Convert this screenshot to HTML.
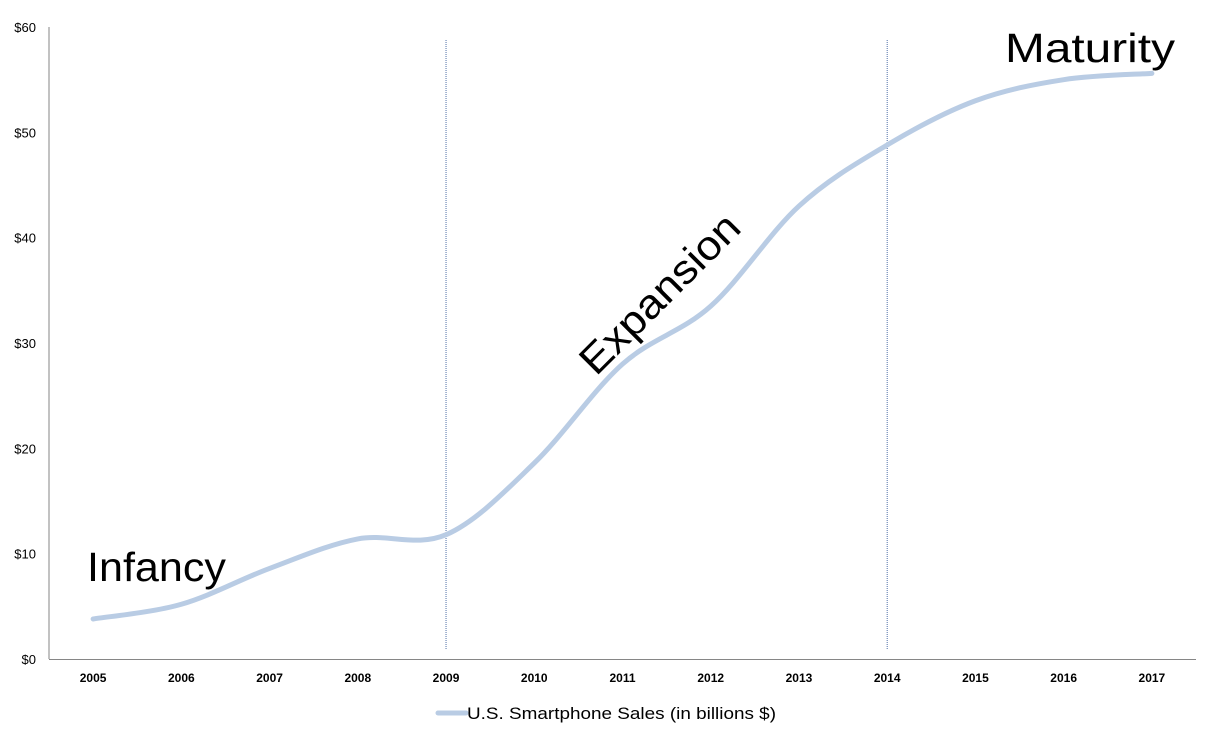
<!DOCTYPE html>
<html><head><meta charset="utf-8"><style>
body{margin:0;background:#fff;}
svg text{font-family:"Liberation Sans",sans-serif;}
</style></head><body>
<svg id="chart" width="1211" height="739"></svg>
<script>
const years=["2005","2006","2007","2008","2009","2010","2011","2012","2013","2014","2015","2016","2017"];
const sales=[3.8,5.2,8.6,11.4,11.8,18.6,28,33.5,43,48.8,53,55,55.6];
const yTicks=[0,10,20,30,40,50,60];
const yTickLabels=["$0","$10","$20","$30","$40","$50","$60"];
const phaseLines=["2009","2014"];
const NS="http://www.w3.org/2000/svg";
const svg=document.getElementById('chart');
const L=49,R=1196,T=27,B=659;
const band=(R-L)/years.length;
const x=i=>L+band*(i+0.5);
const y=v=>B-(v/60)*(B-T);
function mk(t,a,p){const e=document.createElementNS(NS,t);for(const k in a)e.setAttribute(k,a[k]);(p||svg).appendChild(e);return e;}
let e;
e=mk('line',{x1:L,y1:T,x2:L,y2:B,stroke:'#868686','stroke-width':1});


e=mk('line',{x1:L,y1:B+0.5,x2:R,y2:B+0.5,stroke:'#868686','stroke-width':1});


yTicks.forEach((v,i)=>{
  const t=mk('text',{x:36,y:y(v)+5,'text-anchor':'end','font-size':13,fill:'#000'});
  t.textContent=yTickLabels[i];
  
  
});
years.forEach((yr,i)=>{
  const t=mk('text',{x:x(i),y:682,'text-anchor':'middle','font-size':12,'font-weight':'bold',fill:'#000'});
  t.textContent=yr;
  
  
});
phaseLines.forEach(p=>{
  const i=years.indexOf(p);
  const l=mk('line',{x1:x(i),y1:40,x2:x(i),y2:649,stroke:'#4f6fa8','stroke-width':1,'stroke-dasharray':'1,1'});
  
  
});
const pts=sales.map((v,i)=>[x(i),y(v)]);
let d=`M${pts[0][0]},${pts[0][1]}`;
for(let i=0;i<pts.length-1;i++){
  const p0=pts[Math.max(0,i-1)],p1=pts[i],p2=pts[i+1],p3=pts[Math.min(pts.length-1,i+2)];
  const c1=[p1[0]+(p2[0]-p0[0])/6,p1[1]+(p2[1]-p0[1])/6];
  const c2=[p2[0]-(p3[0]-p1[0])/6,p2[1]-(p3[1]-p1[1])/6];
  d+=` C${c1[0]},${c1[1]} ${c2[0]},${c2[1]} ${p2[0]},${p2[1]}`;
}
e=mk('path',{d:d,fill:'none',stroke:'#b9cce4','stroke-width':5,'stroke-linecap':'round'});


e=mk('text',{x:87,y:581,'font-size':41,fill:'#000',textLength:139,lengthAdjust:'spacingAndGlyphs'});e.textContent='Infancy';


e=mk('text',{x:0,y:0,'font-size':41,fill:'#000',textLength:208,lengthAdjust:'spacingAndGlyphs',transform:'translate(596,377) rotate(-45)'});e.textContent='Expansion';


e=mk('text',{x:1005,y:62,'font-size':41,fill:'#000',textLength:170,lengthAdjust:'spacingAndGlyphs'});e.textContent='Maturity';


const g=mk('g',{});


mk('line',{x1:438,y1:713,x2:466,y2:713,stroke:'#b9cce4','stroke-width':5,'stroke-linecap':'round'},g);
e=mk('text',{x:467,y:719,'font-size':17,fill:'#000',textLength:309,lengthAdjust:'spacingAndGlyphs'},g);e.textContent='U.S. Smartphone Sales (in billions $)';
</script>
</body></html>
